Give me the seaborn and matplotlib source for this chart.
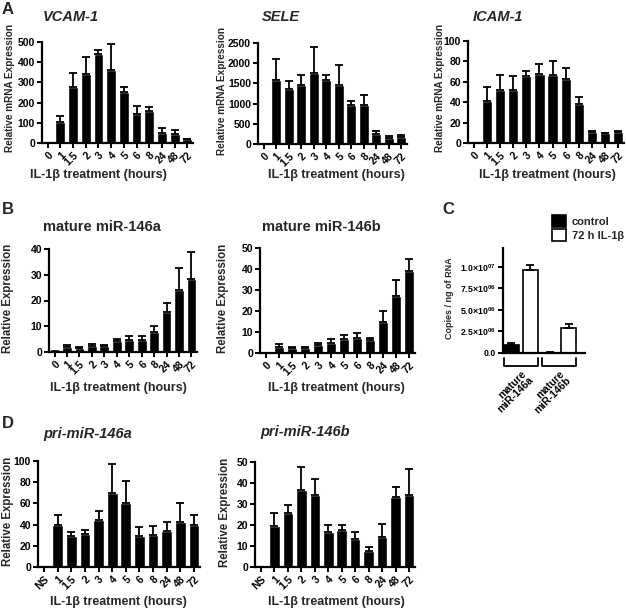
import matplotlib
matplotlib.use("Agg")
import matplotlib.pyplot as plt
import seaborn as sns
import numpy as np
import pandas as pd
from matplotlib.transforms import blended_transform_factory

# ---------------- data ----------------
hours = ["0", "1", "1.5", "2", "3", "4", "5", "6", "8", "24", "48", "72"]
hours_ns = ["NS", "1", "1.5", "2", "3", "4", "5", "6", "8", "24", "48", "72"]

vcam_mean = [3, 105, 278, 342, 440, 362, 252, 143, 157, 48, 45, 20]
vcam_err = [0, 30, 67, 83, 20, 126, 23, 42, 21, 24, 17, 2]
sele_mean = [0, 1590, 1370, 1460, 1750, 1590, 1470, 970, 970, 250, 160, 170]
sele_err = [0, 510, 180, 240, 650, 130, 480, 100, 240, 70, 50, 50]
icam_mean = [1, 41, 52, 52, 66, 68, 67, 63, 38, 11, 9.5, 11]
icam_err = [0, 14, 15, 14, 5, 9, 13, 11, 7, 1, 0.5, 1]

mir146a_mean = [1, 2, 1.5, 2.5, 2.3, 4.3, 4.7, 4.8, 7.8, 15.5, 24, 28.5]
mir146a_err = [0, 0.7, 0.3, 0.7, 0.6, 0.9, 1.6, 1.5, 2.2, 3.5, 8.5, 10.5]
mir146b_mean = [1, 2.8, 2.2, 2.4, 4.0, 5.0, 6.8, 7.0, 6.0, 15, 27, 39]
mir146b_err = [0, 1.4, 0.5, 0.6, 1.0, 1.5, 1.7, 2.5, 1.0, 5, 8, 6]

pri146a_mean = [1, 40, 29, 31, 44, 70, 60, 29.5, 30, 33.5, 42, 40]
pri146a_err = [0, 9, 4, 4, 9, 27, 21, 8.5, 9, 8.5, 18, 9.5]
pri146b_mean = [1, 19.5, 25.5, 36.5, 34.5, 16.5, 17.8, 13.3, 7.8, 14.5, 33.5, 34.5]
pri146b_err = [0, 6, 4, 11, 7.5, 3.5, 2.2, 3.5, 1.8, 6, 4.5, 12]

copy_groups = ["mature\nmiR-146a", "mature\nmiR-146b"]
copy_conditions = ["control", "72 h IL-1β"]
copy_control = [0.95e6, 0.05e6]
copy_control_err = [0.25e6, 0.02e6]
copy_il1b = [9.6e6, 2.9e6]
copy_il1b_err = [0.6e6, 0.5e6]
copy_ticks = [0, 2.5e6, 5.0e6, 7.5e6, 1.0e7]
copy_ticklabels = ["0.0", "2.5×10$^{06}$", "5.0×10$^{06}$", "7.5×10$^{06}$", "1.0×10$^{07}$"]

# ---------------- style ----------------
sns.set_theme(style="ticks")
plt.rcParams["font.family"] = ["Liberation Sans", "DejaVu Sans"]
plt.rcParams["font.weight"] = "bold"
plt.rcParams["axes.labelweight"] = "bold"
plt.rcParams["mathtext.fontset"] = "custom"
plt.rcParams["mathtext.rm"] = "Liberation Sans:bold"
plt.rcParams["mathtext.default"] = "rm"

W, H = 626, 608
fig = plt.figure(figsize=(W / 100, H / 100), dpi=100)
fig.patch.set_facecolor("white")


def px_axes(l, t, r, b):
    return fig.add_axes([l / W, 1 - b / H, (r - l) / W, (b - t) / H])


def ftext(x, y, s, **kw):
    fig.text(x / W, 1 - y / H, s, **kw)


def style_axes(ax, tick_size=7.5):
    for s in ("top", "right"):
        ax.spines[s].set_visible(False)
    for s in ("left", "bottom"):
        ax.spines[s].set_linewidth(1.6)
        ax.spines[s].set_color("black")
    ax.tick_params(direction="out", length=3.5, width=1.4, colors="black",
                   labelsize=tick_size, pad=1.5)
    for lab in ax.get_yticklabels():
        lab.set_fontweight("bold")
    ax.set_xlabel("")
    ax.set_ylabel("")
    ax.set_facecolor("white")


def bar_panel(ax, cats, mean, err, ymax, yticks):
    df = pd.DataFrame({"t": cats, "v": mean})
    sns.barplot(data=df, x="t", y="v", order=cats, color="black", width=0.78,
                errorbar=None, saturation=1, ax=ax)
    x = np.arange(len(cats))
    err = np.asarray(err, dtype=float)
    m = err > 0
    ax.errorbar(x[m], np.asarray(mean, dtype=float)[m],
                yerr=[np.zeros(m.sum()), err[m]], fmt="none", ecolor="black",
                elinewidth=1.3, capsize=3, capthick=1.3)
    ax.set_xlim(-0.45, len(cats) - 0.55)
    ax.set_ylim(0, ymax)
    ax.set_yticks(yticks)
    style_axes(ax)
    ax.set_xticks(x)
    ax.set_xticklabels(cats, rotation=45, ha="right", rotation_mode="anchor",
                       fontweight="bold", fontsize=7.5)


# ---------------- Row A ----------------
axA1 = px_axes(42, 42, 193, 143)
bar_panel(axA1, hours, vcam_mean, vcam_err, 500, [0, 100, 200, 300, 400, 500])
axA2 = px_axes(258, 43, 407, 144)
bar_panel(axA2, hours, sele_mean, sele_err, 2500, [0, 500, 1000, 1500, 2000, 2500])
axA3 = px_axes(468, 41, 624, 143)
bar_panel(axA3, hours, icam_mean, icam_err, 100, [0, 20, 40, 60, 80, 100])

# ---------------- Row B ----------------
axB1 = px_axes(49, 249, 197, 352)
bar_panel(axB1, hours, mir146a_mean, mir146a_err, 40, [0, 10, 20, 30, 40])
axB2 = px_axes(260, 248, 415, 353)
bar_panel(axB2, hours, mir146b_mean, mir146b_err, 50, [0, 10, 20, 30, 40, 50])

# ---------------- Row D ----------------
axD1 = px_axes(38, 461, 200, 567)
bar_panel(axD1, hours_ns, pri146a_mean, pri146a_err, 100, [0, 20, 40, 60, 80, 100])
axD2 = px_axes(255, 462, 415, 567)
bar_panel(axD2, hours_ns, pri146b_mean, pri146b_err, 50, [0, 10, 20, 30, 40, 50])

# ---------------- Panel C ----------------
axC = px_axes(503, 248, 585, 353)
df_c = pd.DataFrame({
    "group": copy_groups * 2,
    "cond": [copy_conditions[0]] * 2 + [copy_conditions[1]] * 2,
    "v": copy_control + copy_il1b,
})
sns.barplot(data=df_c, x="group", y="v", hue="cond", order=copy_groups,
            hue_order=copy_conditions, palette=["black", "white"],
            edgecolor="black", linewidth=1.2, width=1.0, gap=0.25,
            errorbar=None, saturation=1, ax=axC)
for cont, vals, errs in zip(axC.containers, [copy_control, copy_il1b],
                            [copy_control_err, copy_il1b_err]):
    xs = [p.get_x() + p.get_width() / 2 for p in cont.patches]
    axC.errorbar(xs, vals, yerr=[np.zeros(len(errs)), errs], fmt="none",
                 ecolor="black", elinewidth=1.3, capsize=3, capthick=1.3)
axC.set_xlim(-0.47, 1.68)
axC.set_ylim(0, 1.22e7)
axC.set_yticks(copy_ticks)
axC.set_yticklabels(copy_ticklabels)
style_axes(axC, tick_size=6.3)
axC.tick_params(axis="x", length=0, pad=11)
axC.set_xticks([0, 1])
axC.set_xticklabels(copy_groups, rotation=45, ha="right", rotation_mode="anchor",
                    fontweight="bold", fontsize=7.5, linespacing=0.95)
trans = blended_transform_factory(axC.transData, axC.transAxes)
for c in (0, 1):
    axC.plot([c - 0.45, c - 0.45, c + 0.45, c + 0.45],
             [-0.048, -0.125, -0.125, -0.048], color="black", lw=1.3,
             transform=trans, clip_on=False)
handles, labels = axC.get_legend_handles_labels()
if axC.get_legend() is not None:
    axC.get_legend().remove()
fig.legend(handles, labels, loc="upper left",
           bbox_to_anchor=(552 / W, 1 - 215 / H), frameon=False,
           handlelength=1.3, handleheight=1.3, handletextpad=0.5,
           labelspacing=0.2, borderaxespad=0, borderpad=0,
           prop={"size": 8, "weight": "bold"})

# ---------------- texts ----------------
title_kw = dict(fontsize=10.5, fontweight="bold", va="center", ha="left")
ftext(43, 17, "VCAM-1", style="italic", **title_kw)
ftext(262, 17, "SELE", style="italic", **title_kw)
ftext(473, 17, "ICAM-1", style="italic", **title_kw)
ftext(43, 227, "mature miR-146a", **title_kw)
ftext(262, 227, "mature miR-146b", **title_kw)
ftext(43, 434, "pri-miR-146a", style="italic", **title_kw)
ftext(260, 432, "pri-miR-146b", style="italic", **title_kw)

letter_kw = dict(fontsize=12, fontweight="bold", va="center", ha="left")
ftext(2, 9, "A", **letter_kw)
ftext(2, 210, "B", **letter_kw)
ftext(442, 210, "C", **letter_kw)
ftext(2, 423, "D", **letter_kw)

xl_kw = dict(fontsize=9, fontweight="bold", va="center", ha="center")
xlab = "IL-1β treatment (hours)"
ftext(98, 175, xlab, **xl_kw)
ftext(336, 175, xlab, **xl_kw)
ftext(547, 175, xlab, **xl_kw)
ftext(118, 388, xlab, **xl_kw)
ftext(336, 388, xlab, **xl_kw)
ftext(118, 602, xlab, **xl_kw)
ftext(336, 602, xlab, **xl_kw)

yl_kw = dict(fontweight="bold", va="center", ha="center", rotation=90)
ftext(10, 88, "Relative mRNA Expression", fontsize=7.2, **yl_kw)
ftext(222, 91, "Relative mRNA Expression", fontsize=7.2, **yl_kw)
ftext(440, 88, "Relative mRNA Expression", fontsize=7.2, **yl_kw)
ftext(8, 298, "Relative Expression", fontsize=8.3, **yl_kw)
ftext(223, 298, "Relative Expression", fontsize=8.3, **yl_kw)
ftext(449, 298, "Copies / ng of RNA", fontsize=6.5, **yl_kw)
ftext(8, 511, "Relative Expression", fontsize=8.3, **yl_kw)
ftext(225, 512, "Relative Expression", fontsize=8.3, **yl_kw)

fig.savefig("out.png", dpi=100, facecolor="white")
